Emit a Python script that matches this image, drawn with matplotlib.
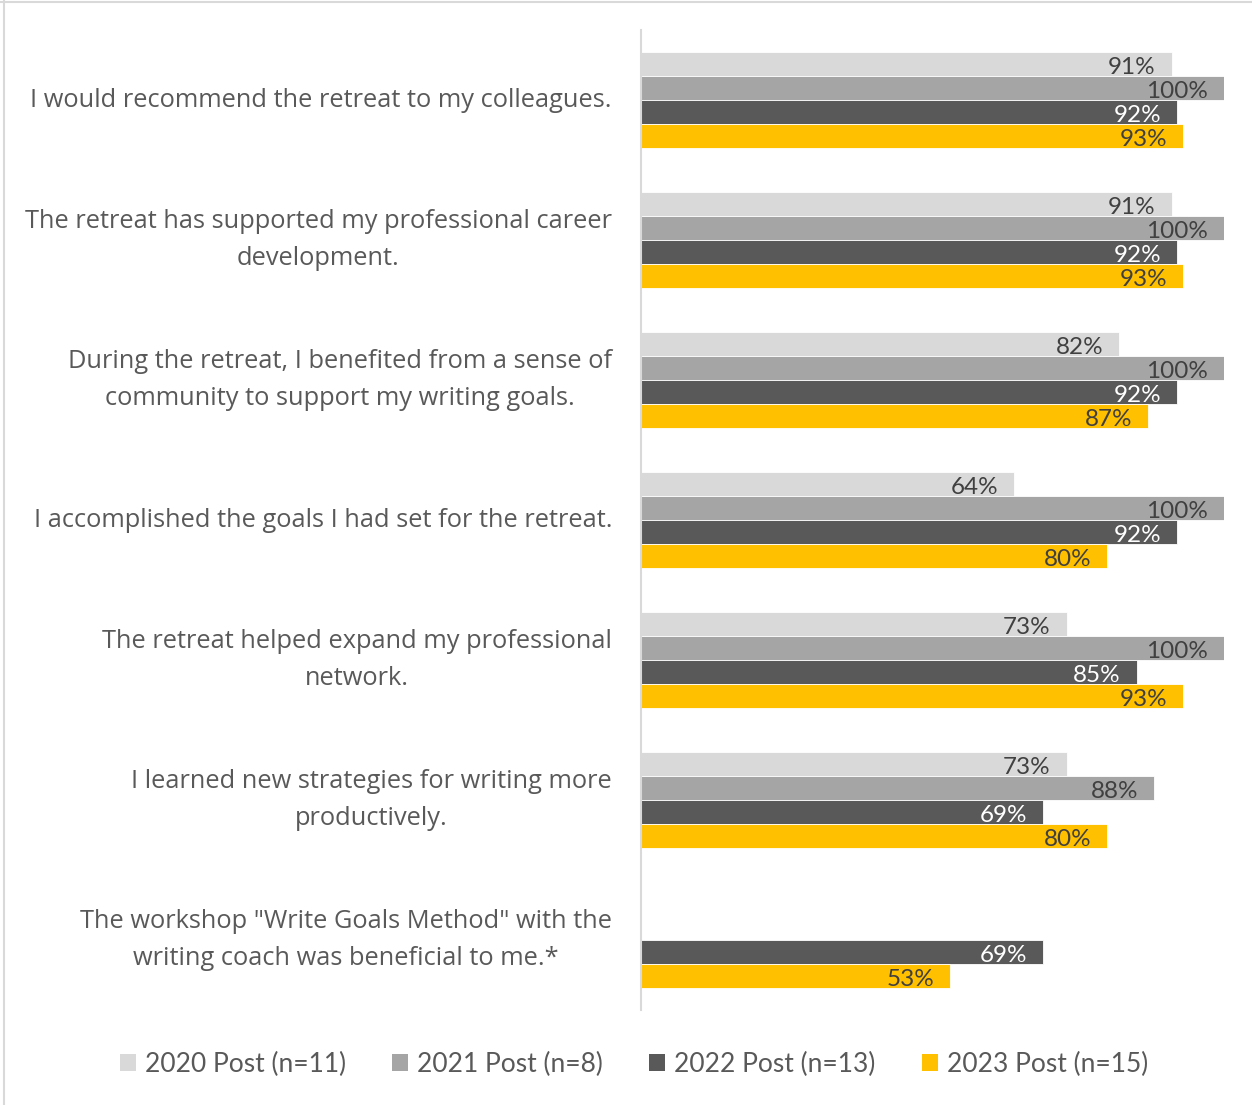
import numpy as np
import matplotlib
matplotlib.use("Agg")
import matplotlib.pyplot as plt
from matplotlib.lines import Line2D
from matplotlib.patches import Patch

statements = [
    "I would recommend the retreat to my colleagues.",
    "The retreat has supported my professional career\ndevelopment.",
    "During the retreat, I benefited from a sense of\ncommunity to support my writing goals.",
    "I accomplished the goals I had set for the retreat.",
    "The retreat helped expand my professional\nnetwork.",
    "I learned new strategies for writing more\nproductively.",
    "The workshop \"Write Goals Method\" with the\nwriting coach was beneficial to me.*",
]
series = ["2020 Post (n=11)", "2021 Post (n=8)", "2022 Post (n=13)", "2023 Post (n=15)"]
post_2020 = [91, 91, 82, 64, 73, 73, np.nan]
post_2021 = [100, 100, 100, 100, 100, 88, np.nan]
post_2022 = [92, 92, 92, 92, 85, 69, 69]
post_2023 = [93, 93, 87, 80, 93, 80, 53]

colors = ["#d9d9d9", "#a5a5a5", "#595959", "#ffc000"]
label_colors = ["#404040", "#404040", "#ffffff", "#404040"]

W, H = 1252, 1105
fig = plt.figure(figsize=(W / 100, H / 100), dpi=100)
ax = fig.add_axes([641 / W, 95 / H, (1224 - 641) / W, 980 / H])

bar_h = 24 / 140
y = np.arange(len(statements))
for k, vals in enumerate([post_2020, post_2021, post_2022, post_2023]):
    pos = y + (k - 1.5) * bar_h
    ax.barh(pos, vals, height=bar_h, color=colors[k], edgecolor="white", linewidth=0.6)
    for p, v in zip(pos, vals):
        if np.isnan(v):
            continue
        ax.text(v - 2.7, p + 0.025, f"{v:.0f}%", ha="right", va="center",
                fontsize=17.5, family="Lato", color=label_colors[k])

ax.set_xlim(0, 100)
ax.set_ylim(len(statements) - 0.5, -0.5)
ax.set_xticks([])
ax.set_yticks([])
for s in ["top", "right", "bottom"]:
    ax.spines[s].set_visible(False)
ax.spines["left"].set_color("#d9d9d9")
ax.spines["left"].set_linewidth(1.5)

for i, s in enumerate(statements):
    ax.annotate(s, xy=(0, i), xycoords=("axes fraction", "data"),
                xytext=(-29, 0), textcoords="offset pixels",
                ha="center" if "\n" in s else "right", va="center",
                multialignment="center", fontsize=18.3, family="Open Sans",
                color="#595959", linespacing=1.6)

# center multi-line labels under the same right edge
fig.canvas.draw()
renderer = fig.canvas.get_renderer()
for t in ax.texts[-len(statements):]:
    if "\n" in t.get_text():
        bb = t.get_window_extent(renderer)
        t.xyann = (-29 - bb.width / 2, 0)

handles = [Patch(facecolor=c, edgecolor="none") for c in colors]
fig.legend(handles, series, loc="center", bbox_to_anchor=(634 / W, 1 - 1064 / H),
           ncol=4, frameon=False, handlelength=0.6, handleheight=0.6,
           handletextpad=0.35, columnspacing=1.75,
           prop={"family": "Lato", "size": 19}, labelcolor="#595959")

fig.add_artist(Line2D([4 / W, 4 / W], [0, 1], color="#d9d9d9", linewidth=1.5))
fig.add_artist(Line2D([0, 1], [1 - 1.5 / H, 1 - 1.5 / H], color="#d9d9d9", linewidth=1.5))

fig.savefig("out.png", dpi=100)
